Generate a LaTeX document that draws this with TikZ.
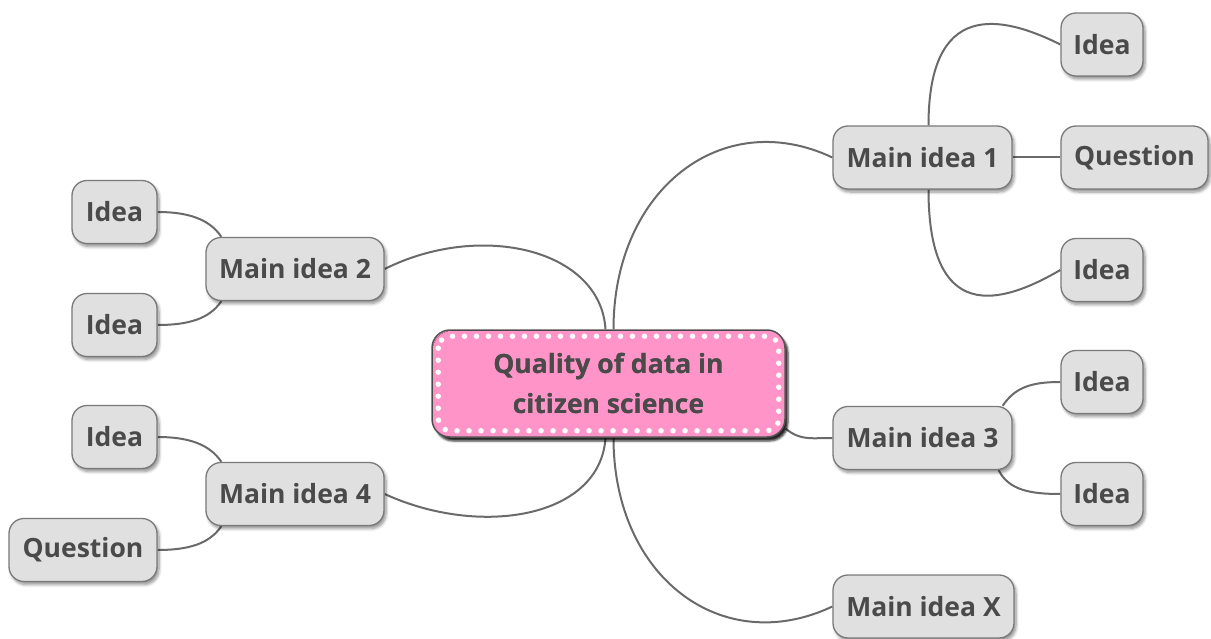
\documentclass[tikz,border=0pt]{standalone}
\usepackage{fontspec}
\setmainfont{Open Sans}
\usetikzlibrary{shadows,shadows.blur,backgrounds}
\definecolor{txt}{HTML}{4A4A4A}
\definecolor{boxfill}{HTML}{E0E0E0}
\definecolor{boxline}{HTML}{7A7A7A}
\definecolor{linkc}{HTML}{6A6A6A}
\definecolor{pinkfill}{HTML}{FF94C8}
\definecolor{centerline}{HTML}{555555}
\begin{document}
\begin{tikzpicture}[x=1pt,y=-1pt,
  topic/.style={draw=boxline, line width=1.3pt, fill=boxfill, rounded corners=15pt,
    minimum height=63pt, inner sep=0pt, text=txt,
    font=\bfseries\fontsize{26.5}{30}\selectfont,
    blur shadow={shadow xshift=2pt, shadow yshift=-3pt, shadow opacity=45, shadow blur steps=6, shadow blur radius=3pt}},
  central/.style={draw=centerline, line width=1.5pt, fill=pinkfill, rounded corners=18pt,
    minimum width=353pt, minimum height=107pt, inner sep=0pt, text=txt, align=center,
    font=\bfseries\fontsize{26.5}{40}\selectfont,
    blur shadow={shadow xshift=3pt, shadow yshift=-4pt, shadow opacity=85, shadow blur steps=4, shadow blur radius=2pt}},
  linkline/.style={draw=linkc, line width=2pt},
  dots/.style={draw=white, line width=5.5pt, line cap=round, dash pattern=on 0pt off 12pt, rounded corners=12pt}]
\useasboundingbox (0,0) rectangle (1211,639);

% central topic
\node[central] (c) at (608.5,383.5) {Quality of data in\\citizen science};
\draw[dots] ([xshift=7pt,yshift=-7pt]c.north west) rectangle ([xshift=-7pt,yshift=7pt]c.south east);
\node[central, draw=none, fill=none, blur shadow={shadow opacity=0}] at (c) {Quality of data in\\citizen science};

% main ideas
\node[topic, minimum width=179pt] (m1) at (922.5,157.5) {Main idea 1};
\node[topic, minimum width=178pt] (m2) at (295,269) {Main idea 2};
\node[topic, minimum width=179pt] (m3) at (922.5,438) {Main idea 3};
\node[topic, minimum width=178pt] (m4) at (295,494) {Main idea 4};
\node[topic, minimum width=181pt] (mx) at (923.5,606.5) {Main idea X};

% sub topics
\node[topic, minimum width=82pt] (i1a) at (1102,44.5) {Idea};
\node[topic, minimum width=147pt] (q1) at (1134.5,157.5) {Question};
\node[topic, minimum width=82pt] (i1b) at (1102,270) {Idea};
\node[topic, minimum width=85pt] (i2a) at (114.5,212) {Idea};
\node[topic, minimum width=85pt] (i2b) at (114.5,325) {Idea};
\node[topic, minimum width=82pt] (i3a) at (1102,382) {Idea};
\node[topic, minimum width=82pt] (i3b) at (1102,494) {Idea};
\node[topic, minimum width=85pt] (i4a) at (114.5,437) {Idea};
\node[topic, minimum width=148pt] (q4) at (83,550) {Question};

\begin{scope}[on background layer]
\draw[linkline] ([xshift=5pt]c.north) .. controls +(0,-140) and +(-110,-52) .. (m1.west);
\draw[linkline] ([xshift=-3pt]c.north) .. controls +(-5,-80) and +(96,-48) .. (m2.east);
\draw[linkline] ([xshift=-3pt]c.south) .. controls +(-5,80) and +(96,44) .. (m4.east);
\draw[linkline] ([xshift=5pt]c.south) .. controls +(0,140) and +(-110,52) .. (mx.west);
\draw[linkline] ([yshift=9pt]c.south east) .. controls +(15,12) and +(-22,0) .. (m3.west);

\draw[linkline] ([xshift=6pt]m1.north) .. controls +(0,-125) and +(-60,-30) .. (i1a.west);
\draw[linkline] (m1.east) -- (q1.west);
\draw[linkline] ([xshift=6pt]m1.south) .. controls +(0,135) and +(-60,35) .. (i1b.west);

\draw[linkline] ([xshift=-10pt]m3.north east) .. controls +(12,-18) and +(-30,0) .. (i3a.west);
\draw[linkline] ([xshift=-14pt]m3.south east) .. controls +(10,20) and +(-30,0) .. (i3b.west);

\draw[linkline] ([xshift=16pt]m2.north west) .. controls +(-12,-18) and +(30,0) .. (i2a.east);
\draw[linkline] ([xshift=16pt]m2.south west) .. controls +(-12,18) and +(30,0) .. (i2b.east);
\draw[linkline] ([xshift=16pt]m4.north west) .. controls +(-12,-18) and +(30,0) .. (i4a.east);
\draw[linkline] ([xshift=16pt]m4.south west) .. controls +(-12,18) and +(30,0) .. (q4.east);
\end{scope}
\end{tikzpicture}
\end{document}
